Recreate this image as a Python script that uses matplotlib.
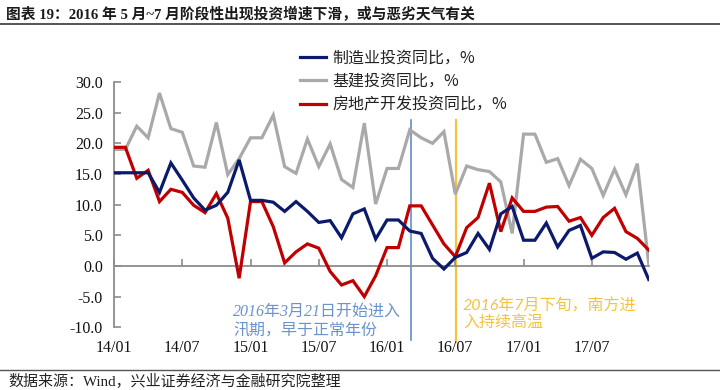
import matplotlib
matplotlib.use("Agg")
import matplotlib.pyplot as plt
import pandas as pd

# ---------------- data ----------------
months = [d.strftime("%y/%m") for d in pd.date_range("2014-01-01", "2017-12-01", freq="MS")]

mfg = [15.2, 15.2, 15.2, 15.2, 12.0, 16.8, 14.0, 11.1, 9.1, 9.9, 12.0, 17.3,
       10.7, 10.7, 10.4, 8.9, 10.5, 8.9, 7.1, 7.4, 4.6, 8.5, 9.3, 4.4,
       7.5, 7.5, 5.7, 5.3, 1.25, -0.5, 1.4, 2.2, 5.3, 2.7, 8.5, 9.7,
       4.2, 4.2, 7.0, 3.1, 5.8, 6.6, 1.25, 2.3, 2.2, 1.1, 2.1, -2.2]

infra = [19.0, 19.0, 22.8, 20.9, 28.2, 22.4, 21.8, 16.3, 16.1, 23.4, 14.9, 17.5,
         20.9, 20.9, 24.6, 16.2, 15.1, 20.7, 16.2, 19.9, 14.1, 12.8, 23.3, 10.1,
         15.9, 15.9, 22.2, 20.9, 20.0, 21.9, 11.7, 16.3, 15.7, 15.4, 13.7, 5.3,
         21.5, 21.5, 16.9, 17.5, 13.1, 17.4, 15.9, 11.5, 15.8, 11.6, 16.7, 0.4]

realestate = [19.35, 19.35, 14.3, 15.6, 10.5, 12.5, 12.0, 9.9, 8.7, 11.8, 7.8, -2.0,
              10.5, 10.5, 6.4, 0.5, 2.3, 3.6, 2.9, -0.9, -3.1, -2.4, -5.0, -1.6,
              3.0, 3.0, 9.8, 9.8, 6.7, 3.6, 1.5, 6.25, 7.9, 13.5, 5.6, 11.1,
              8.9, 8.9, 9.6, 9.7, 7.3, 7.9, 5.0, 7.9, 9.4, 5.6, 4.5, 2.6]

series_names = ["制造业投资同比，%", "基建投资同比，%", "房地产开发投资同比，%"]
tick_labels = ["14/01", "14/07", "15/01", "15/07", "16/01", "16/07", "17/01", "17/07"]
yticks = [-10, -5, 0, 5, 10, 15, 20, 25, 30]

event1_pos = 26.1   # 2016-03-21 flood season
event2_pos = 30.06  # late July 2016 heat
event1_text = "2016年3月21日开始进入\n汛期，早于正常年份"
event2_text = "2016年7月下旬，南方进\n入持续高温"

title = "图表 19：2016 年 5 月~7 月阶段性出现投资增速下滑，或与恶劣天气有关"
source = "数据来源：Wind，兴业证券经济与金融研究院整理"

# ---------------- style ----------------
SERIF_CJK = ["Liberation Serif", "Noto Sans CJK SC"]
CJK = ["Noto Sans CJK SC", "DejaVu Sans"]
plt.rcParams["font.family"] = SERIF_CJK

C_MFG = "#0c1a6c"
C_INF = "#a9a9a9"
C_RE = "#c00000"
C_AX = "#8c8c8c"

W, H = 720, 390
fig = plt.figure(figsize=(7.2, 3.9), dpi=100)
ax = fig.add_axes([114 / W, 1 - 327.3 / H, 534.7 / W, 245.3 / H])

x = list(range(len(months)))
ax.plot(x, infra, color=C_INF, lw=2.3, zorder=2, label=series_names[1], solid_joinstyle="miter")
ax.plot(x, realestate, color=C_RE, lw=2.3, zorder=3, label=series_names[2], solid_joinstyle="miter")
ax.plot(x, mfg, color=C_MFG, lw=2.3, zorder=4, label=series_names[0], solid_joinstyle="miter")

ax.set_xlim(0, len(months) - 1)
ax.set_ylim(yticks[0], yticks[-1])

for s in ("top", "right"):
    ax.spines[s].set_visible(False)
ax.spines["bottom"].set_position(("data", 0))
for s in ("left", "bottom"):
    ax.spines[s].set_color(C_AX)
    ax.spines[s].set_linewidth(1.3)

ax.set_yticks(yticks)
ax.set_yticklabels([f"{v:.1f}" for v in yticks])
ax.tick_params(axis="y", direction="in", length=5, width=1.2, color=C_AX,
               labelsize=11.5, pad=8, labelcolor="#111111")
tick_pos = [months.index(t) for t in tick_labels]
ax.set_xticks(tick_pos)
ax.tick_params(axis="x", direction="in", length=5, width=1.2, color=C_AX, labelbottom=False)
for p, t in zip(tick_pos, tick_labels):
    ax.text(p, -0.086, t, transform=ax.get_xaxis_transform(), ha="center", va="center",
            fontsize=11.5, color="#111111", family=SERIF_CJK)

# event lines
ax.plot([event1_pos, event1_pos], [23.8, -12.1], color="#5f8dcf", lw=1.2, clip_on=False, zorder=1)
ax.plot([event2_pos, event2_pos], [23.8, -12.4], color="#f5c33b", lw=1.6, clip_on=False, zorder=1)

fig.text(233 / W, 1 - 304 / H, event1_text, color="#6b92cc", fontsize=11.5, style="italic",
         family=SERIF_CJK, ha="left", va="top", linespacing=1.3)
fig.text(463 / W, 1 - 298 / H, event2_text, color="#f5c33b", fontsize=11.5, style="italic",
         family=["Lato", "Noto Sans CJK SC"], ha="left", va="top", linespacing=1.15)

# legend
handles, labels = ax.get_legend_handles_labels()
order = [2, 0, 1]
leg = fig.legend([handles[i] for i in order], [labels[i] for i in order],
                 loc="upper left", bbox_to_anchor=(300 / W, 1 - 50 / H), frameon=False,
                 borderpad=0, borderaxespad=0, handlelength=1.65, handletextpad=0.4,
                 labelspacing=0.38, prop={"family": CJK, "size": 11.5})
for t in leg.get_texts():
    t.set_color("#222222")

# title and footer
fig.text(6 / W, 1 - 14 / H, title, fontsize=10.6, fontweight="bold", family=SERIF_CJK,
         ha="left", va="center", color="#1a1a1a")
fig.add_artist(plt.Line2D([0, 1], [1 - 24 / H, 1 - 24 / H], color="#555555", lw=1.4,
                          transform=fig.transFigure))
fig.add_artist(plt.Line2D([0, 1], [1 - 370 / H, 1 - 370 / H], color="#555555", lw=1.0,
                          transform=fig.transFigure))
fig.text(8 / W, 1 - 381 / H, source, fontsize=10.8, family=SERIF_CJK, ha="left", va="center",
         color="#222222")

fig.savefig("out.png", dpi=100)
